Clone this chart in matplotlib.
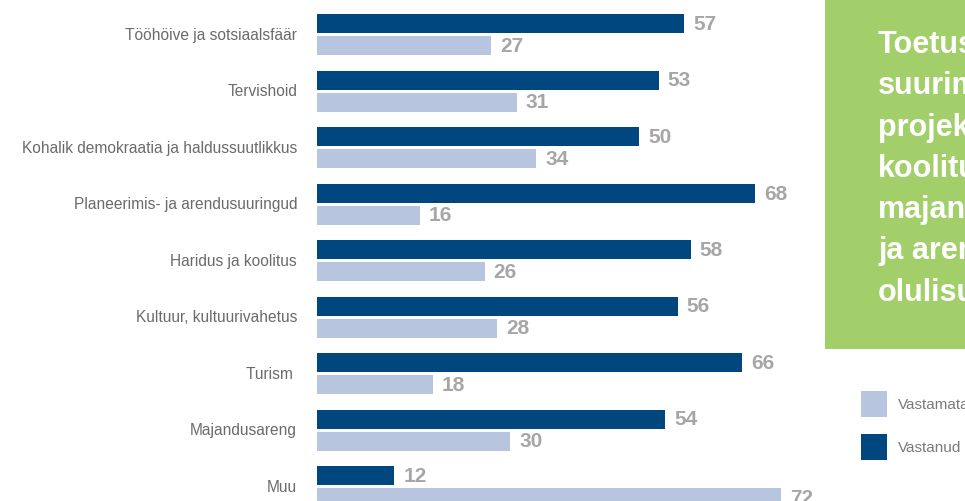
import matplotlib.pyplot as plt
from matplotlib.patches import Rectangle

# survey answers per field of activity
categories = [
    "Tööhöive ja sotsiaalsfäär",
    "Tervishoid",
    "Kohalik demokraatia ja haldussuutlikkus",
    "Planeerimis- ja arendusuuringud",
    "Haridus ja koolitus",
    "Kultuur, kultuurivahetus",
    "Turism ",
    "Majandusareng",
    "Muu",
]
vastanud = [57, 53, 50, 68, 58, 56, 66, 54, 12]
vastamata = [27, 31, 34, 16, 26, 28, 18, 30, 72]

box_lines = ["Toetuse", "suurimad", "projektid", "koolitus", "majandus", "ja arengu", "olulisus"]
legend_labels = ["Vastamata", "Vastanud"]

dark = "#00477f"
light = "#b8c5de"
green = "#a2cf6a"
label_grey = "#6b6b6b"
value_grey = "#a6a6a6"

W, H = 965, 502
fig = plt.figure(figsize=(W / 100, H / 100), dpi=100)
fig.patch.set_facecolor("white")

x0, x1 = 317, 820
px_per_unit = 6.444
ax = fig.add_axes([x0 / W, 0, (x1 - x0) / W, 1])
ax.set_xlim(0, (x1 - x0) / px_per_unit)

# group spacing of 56.5 px, first group centred 35.5 px from the top
step = 56.5
top = 35.5
ax.set_ylim((H - top) / step, -top / step)
bh = 19 / step
off = 11 / step

ys = list(range(len(categories)))
ax.barh([y - off for y in ys], vastanud, height=bh, color=dark, linewidth=0)
ax.barh([y + off for y in ys], vastamata, height=bh, color=light, linewidth=0)

pad = 9 / px_per_unit
for y, a, b in zip(ys, vastanud, vastamata):
    ax.text(a + pad, y - off, str(a), ha="left", va="center", fontsize=15,
            fontweight="bold", color=value_grey, family="Liberation Sans")
    ax.text(b + pad, y + off, str(b), ha="left", va="center", fontsize=15,
            fontweight="bold", color=value_grey, family="Liberation Sans")
    ax.text(-20 / px_per_unit, y, categories[y], ha="right", va="center", fontsize=11.2,
            color=label_grey, family="Liberation Sans", clip_on=False)

ax.axis("off")

# green text panel on the right
fig.patches.append(Rectangle((825 / W, 1 - 350 / H), 140 / W, 350 / H,
                             transform=fig.transFigure, facecolor=green, edgecolor="none"))
for i, line in enumerate(box_lines):
    fig.text(878 / W, 1 - (53 + 41.3 * i) / H, line, ha="left", va="baseline",
             fontsize=22, fontweight="bold", color="white", family="Liberation Sans")

# legend
for i, (lab, col) in enumerate(zip(legend_labels, [light, dark])):
    yc = 405 + 43 * i
    fig.patches.append(Rectangle((861 / W, 1 - (yc + 13) / H), 26 / W, 26 / H,
                                 transform=fig.transFigure, facecolor=col, edgecolor="none"))
    fig.text(898 / W, 1 - yc / H, lab, ha="left", va="center", fontsize=11,
             color="#7a7a7a", family="Liberation Sans")

fig.savefig("out.png", dpi=100)
